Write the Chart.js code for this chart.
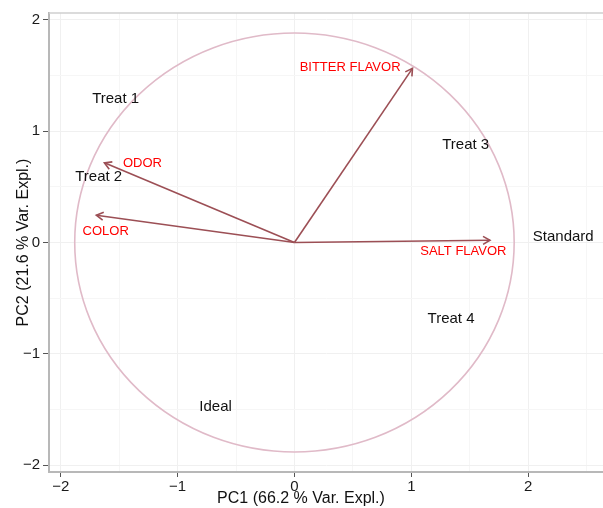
<!DOCTYPE html>
<html>
<head>
<meta charset="utf-8">
<script src="https://cdn.jsdelivr.net/npm/chart.js@4.4.1/dist/chart.umd.min.js"></script>
<style>
  html, body { margin: 0; padding: 0; background: #ffffff; }
  #wrap { width: 603px; height: 508px; position: relative; }
</style>
</head>
<body>
<div id="wrap"><canvas id="c" width="603" height="508"></canvas></div>
<script>
// ---- data ----
const sampleNames = ['Treat 1', 'Treat 2', 'Treat 3', 'Standard', 'Treat 4', 'Ideal'];
const sampleX = [-1.53, -1.675, 1.465, 2.30, 1.34, -0.675];
const sampleY = [1.30, 0.605, 0.89, 0.066, -0.668, -1.46];

const variableNames = ['BITTER FLAVOR', 'SALT FLAVOR', 'ODOR', 'COLOR'];
const loadingX = [1.01, 1.673, -1.626, -1.695];
const loadingY = [1.563, 0.02, 0.715, 0.245];
const variableLabelX = [0.476, 1.445, -1.30, -1.615];
const variableLabelY = [1.584, -0.075, 0.719, 0.11];

const circleRadius = 1.88;
const xTitle = 'PC1 (66.2 % Var. Expl.)';
const yTitle = 'PC2 (21.6 % Var. Expl.)';

// ---- styles ----
const FONT = '"Liberation Sans", Arial, Helvetica, sans-serif';
const ARROW_COLOR = '#9c4f55';
const CIRCLE_COLOR = '#e0bac8';
const LABEL_RED = '#ff0000';

const arrowDatasets = variableNames.map((name, i) => ({
  label: name,
  type: 'line',
  data: [{ x: 0, y: 0 }, { x: loadingX[i], y: loadingY[i] }],
  borderColor: ARROW_COLOR,
  borderWidth: 1.6,
  pointRadius: 0,
  fill: false,
  tension: 0,
  isArrow: true
}));

const sampleDataset = {
  label: 'samples',
  type: 'scatter',
  data: sampleNames.map((n, i) => ({ x: sampleX[i], y: sampleY[i], name: n })),
  pointRadius: 0,
  isSamples: true
};

const fmt = v => (v < 0 ? '\u2212' + Math.abs(v) : String(v));

const biplotPlugin = {
  id: 'biplot',
  beforeDatasetsDraw(chart) {
    const { ctx, chartArea: a, scales: { x, y } } = chart;
    ctx.save();
    // top frame line
    ctx.strokeStyle = '#cfcfcf';
    ctx.lineWidth = 1.5;
    ctx.beginPath();
    ctx.moveTo(a.left, a.top);
    ctx.lineTo(a.right, a.top);
    ctx.stroke();
    // correlation circle
    const cx = x.getPixelForValue(0), cy = y.getPixelForValue(0);
    const rx = x.getPixelForValue(circleRadius) - cx;
    const ry = cy - y.getPixelForValue(circleRadius);
    ctx.strokeStyle = CIRCLE_COLOR;
    ctx.lineWidth = 1.6;
    ctx.beginPath();
    ctx.ellipse(cx, cy, rx, ry, 0, 0, Math.PI * 2);
    ctx.stroke();
    ctx.restore();
  },
  afterDatasetsDraw(chart) {
    const { ctx, scales: { x, y } } = chart;
    ctx.save();
    // arrow heads
    chart.data.datasets.forEach(ds => {
      if (!ds.isArrow) return;
      const p0 = ds.data[0], p1 = ds.data[1];
      const x0 = x.getPixelForValue(p0.x), y0 = y.getPixelForValue(p0.y);
      const x1 = x.getPixelForValue(p1.x), y1 = y.getPixelForValue(p1.y);
      const ang = Math.atan2(y1 - y0, x1 - x0);
      const len = 8, spread = Math.PI / 6;
      ctx.strokeStyle = ARROW_COLOR;
      ctx.lineWidth = 1.6;
      ctx.beginPath();
      ctx.moveTo(x1 - len * Math.cos(ang - spread), y1 - len * Math.sin(ang - spread));
      ctx.lineTo(x1, y1);
      ctx.lineTo(x1 - len * Math.cos(ang + spread), y1 - len * Math.sin(ang + spread));
      ctx.stroke();
    });
    // variable labels
    ctx.textAlign = 'center';
    ctx.textBaseline = 'middle';
    ctx.fillStyle = LABEL_RED;
    ctx.font = '13px ' + FONT;
    variableNames.forEach((n, i) => {
      ctx.fillText(n, x.getPixelForValue(variableLabelX[i]), y.getPixelForValue(variableLabelY[i]) + 1);
    });
    // sample labels
    ctx.fillStyle = '#111111';
    ctx.font = '15px ' + FONT;
    chart.data.datasets.forEach(ds => {
      if (!ds.isSamples) return;
      ds.data.forEach(p => {
        ctx.fillText(p.name, x.getPixelForValue(p.x), y.getPixelForValue(p.y) + 1.5);
      });
    });
    // x axis title (placed as in the reference)
    ctx.fillStyle = '#111111';
    ctx.font = '16px ' + FONT;
    ctx.fillText(xTitle, 301, 499);
    ctx.restore();
  }
};

const gridColor = c => (c.tick && Number.isInteger(c.tick.value) ? '#f0f0f0' : '#f6f6f6');
const tickColor = c => (c.tick && Number.isInteger(c.tick.value) ? '#555555' : 'rgba(0,0,0,0)');

new Chart(document.getElementById('c'), {
  type: 'scatter',
  data: { datasets: [...arrowDatasets, sampleDataset] },
  plugins: [biplotPlugin],
  options: {
    responsive: false,
    animation: false,
    events: [],
    layout: { padding: { top: 13, right: 0, left: 0, bottom: 0 } },
    plugins: { legend: { display: false }, tooltip: { enabled: false } },
    scales: {
      x: {
        type: 'linear',
        min: -2.1,
        max: 2.64,
        afterFit: s => { s.height = 36; },
        border: { display: true, color: '#b8b8b8', width: 2 },
        grid: { color: gridColor, tickColor: tickColor, tickLength: 5, lineWidth: 1 },
        ticks: {
          stepSize: 0.5,
          includeBounds: false,
          padding: 1,
          color: '#1a1a1a',
          font: { family: FONT, size: 15 },
          callback: v => (Number.isInteger(v) ? fmt(v) : '')
        },
        title: { display: false }
      },
      y: {
        type: 'linear',
        min: -2.06,
        max: 2.06,
        afterFit: s => { s.width = 49; },
        border: { display: true, color: '#b8b8b8', width: 2 },
        grid: { color: gridColor, tickColor: tickColor, tickLength: 6, lineWidth: 1 },
        ticks: {
          stepSize: 0.5,
          includeBounds: false,
          padding: 3,
          color: '#1a1a1a',
          font: { family: FONT, size: 15 },
          callback: v => (Number.isInteger(v) ? fmt(v) : '')
        },
        title: {
          display: true,
          text: yTitle,
          color: '#111111',
          font: { family: FONT, size: 16 },
          padding: { top: 14, bottom: 0 }
        }
      }
    }
  }
});
</script>
</body>
</html>
